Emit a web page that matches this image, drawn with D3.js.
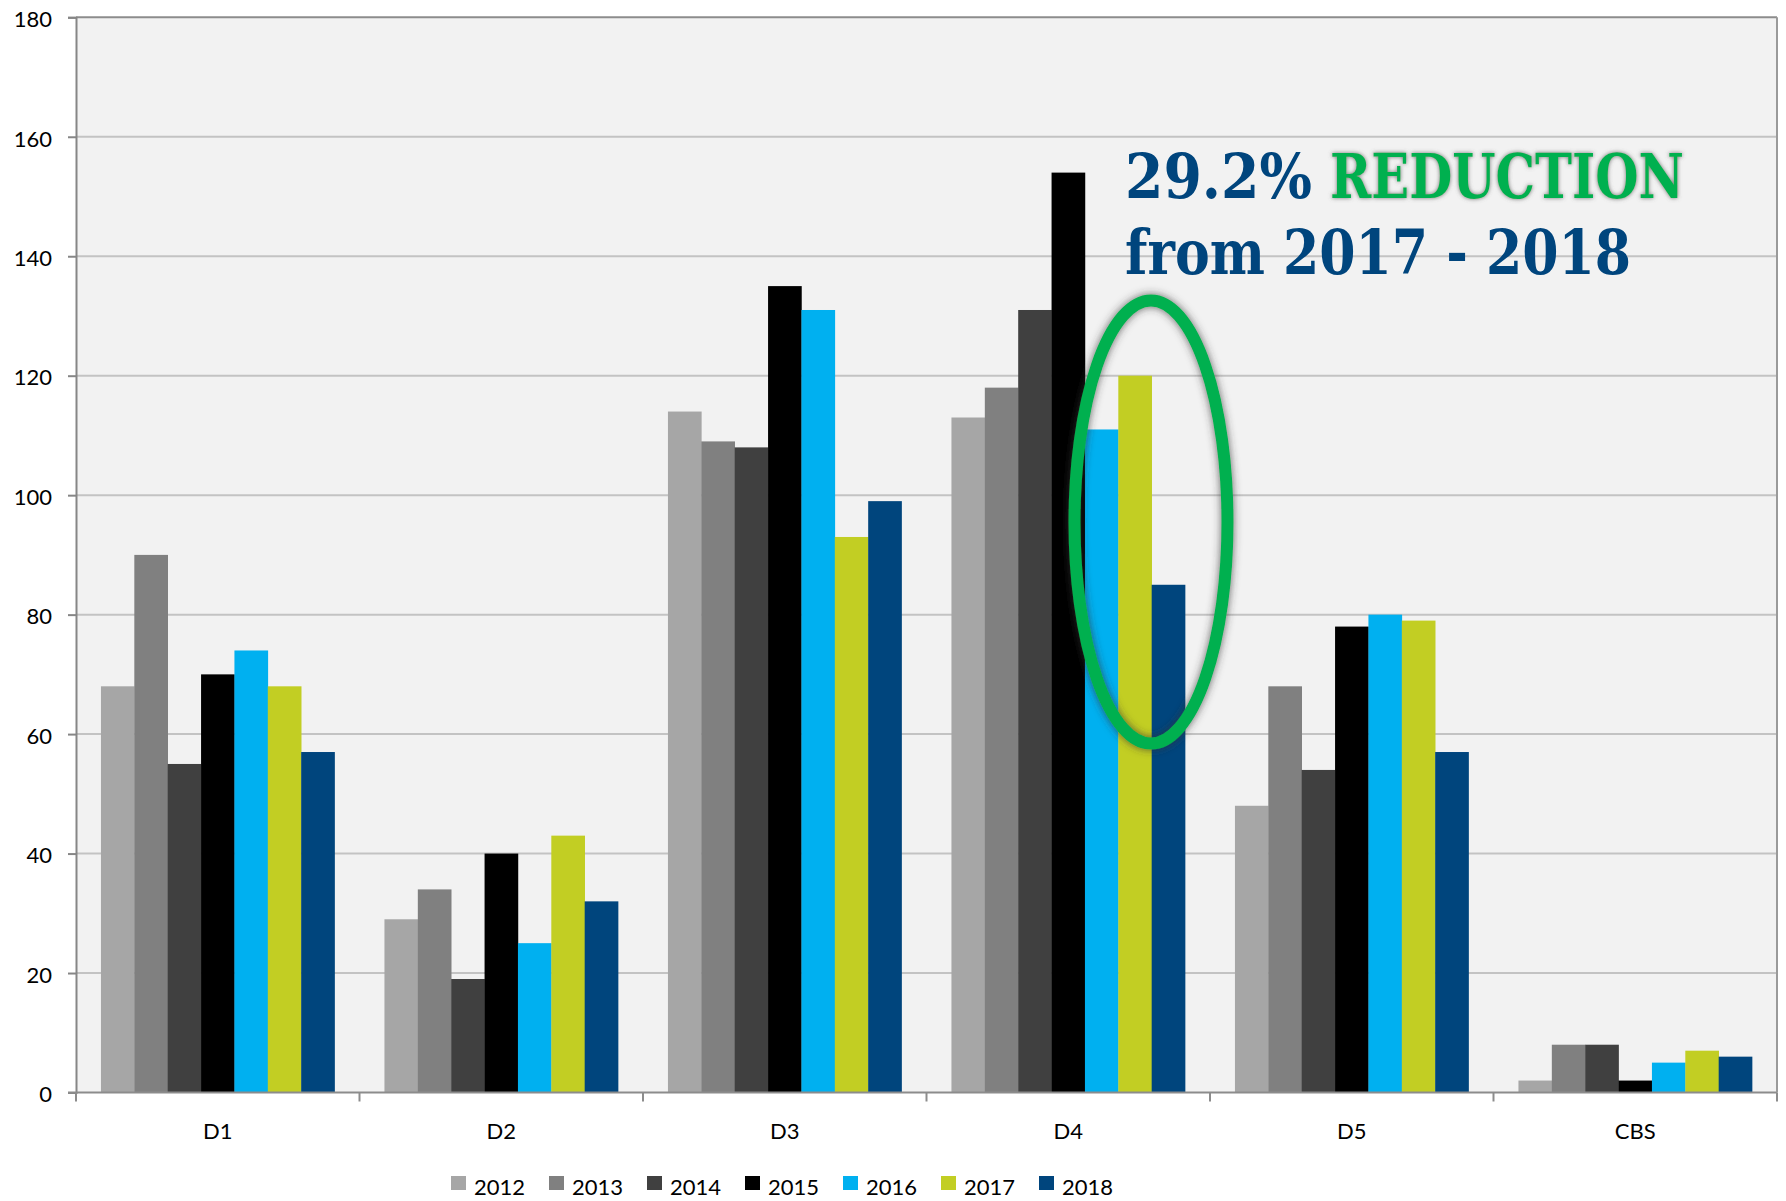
<!DOCTYPE html>
<html><head><meta charset="utf-8">
<script src="https://cdn.jsdelivr.net/npm/d3@7"></script>
<style>html,body{margin:0;padding:0;background:#fff;}svg{display:block;}</style>
</head><body>
<svg id="chart" width="1786" height="1201"></svg>
<script>
const categories = ["D1","D2","D3","D4","D5","CBS"];
const years = ["2012","2013","2014","2015","2016","2017","2018"];
const v2012 = [68, 29, 114, 113, 48, 2];
const v2013 = [90, 34, 109, 118, 68, 8];
const v2014 = [55, 19, 108, 131, 54, 8];
const v2015 = [70, 40, 135, 154, 78, 2];
const v2016 = [74, 25, 131, 111, 80, 5];
const v2017 = [68, 43, 93, 120, 79, 7];
const v2018 = [57, 32, 99, 85, 57, 6];
const yTicks = [0,20,40,60,80,100,120,140,160,180];
const colors = ["#a6a6a6","#808080","#404040","#000000","#00b0f0","#c2ce23","#00457d"];

const series = [v2012,v2013,v2014,v2015,v2016,v2017,v2018];
const svg = d3.select("#chart");
const L = 76, R = 1777, T = 17.3, B = 1092.5;

const defs = svg.append("defs");
const f1 = defs.append("filter").attr("id","glow").attr("x","-30%").attr("y","-30%").attr("width","160%").attr("height","160%");
f1.append("feGaussianBlur").attr("in","SourceAlpha").attr("stdDeviation",4).attr("result","b");
f1.append("feFlood").attr("flood-color","#333").attr("flood-opacity",0.75);
f1.append("feComposite").attr("in2","b").attr("operator","in").attr("result","s");
const m1 = f1.append("feMerge"); m1.append("feMergeNode").attr("in","s"); m1.append("feMergeNode").attr("in","SourceGraphic");
const f2 = defs.append("filter").attr("id","tglow").attr("x","-10%").attr("y","-30%").attr("width","120%").attr("height","160%");
f2.append("feGaussianBlur").attr("in","SourceAlpha").attr("stdDeviation",2).attr("result","b");
f2.append("feFlood").attr("flood-color","#666").attr("flood-opacity",0.9);
f2.append("feComposite").attr("in2","b").attr("operator","in").attr("result","s");
const m2 = f2.append("feMerge"); m2.append("feMergeNode").attr("in","s"); m2.append("feMergeNode").attr("in","SourceGraphic");

const x0 = d3.scaleBand().domain(categories).range([L,R]).paddingInner(0.176).paddingOuter(0.088);
const x1 = d3.scaleBand().domain(years).range([0, x0.bandwidth()]);
const y = d3.scaleLinear().domain([0,180]).range([B,T]);

svg.append("rect").attr("x",L).attr("y",T).attr("width",R-L).attr("height",B-T).attr("fill","#f2f2f2");

// gridlines
svg.append("g").selectAll("line").data(yTicks.filter(d=>d>0)).join("line")
  .attr("x1",L).attr("x2",R).attr("y1",d=>y(d)).attr("y2",d=>y(d))
  .attr("stroke",d=>d===180?"#8c8c8c":"#c3c3c3").attr("stroke-width",2);

// bars
const g = svg.append("g");
categories.forEach((c,ci)=>{
  years.forEach((yr,yi)=>{
    const v = series[yi][ci];
    g.append("rect").attr("x",x0(c)+x1(yr)).attr("width",x1.bandwidth()+0.3)
      .attr("y",y(v)).attr("height",y(0)-y(v)).attr("fill",colors[yi]);
  });
});

// y axis
const yAxis = d3.axisLeft(y).tickValues(yTicks).tickSize(8).tickPadding(16).tickFormat(d3.format("d"));
const ya = svg.append("g").attr("transform",`translate(${L},0)`).call(yAxis);
ya.select(".domain").attr("stroke","#868686").attr("stroke-width",2);
ya.selectAll(".tick line").attr("stroke","#868686").attr("stroke-width",2);
ya.selectAll(".tick text").attr("font-family","Lato").attr("font-size",22).attr("fill","#000").attr("dy","0.42em");

// x axis
const bounds = [L].concat(categories.map(c=>x0(c)-x0.step()*0.088+x0.step()));
svg.append("line").attr("x1",L-8).attr("x2",R).attr("y1",B).attr("y2",B).attr("stroke","#8c8c8c").attr("stroke-width",2);
svg.append("line").attr("x1",R).attr("x2",R).attr("y1",T).attr("y2",B).attr("stroke","#9a9a9a").attr("stroke-width",2);
svg.append("g").selectAll("line").data(bounds).join("line")
  .attr("x1",d=>d).attr("x2",d=>d).attr("y1",B).attr("y2",B+9).attr("stroke","#8c8c8c").attr("stroke-width",2);
svg.append("g").selectAll("text").data(categories).join("text")
  .attr("x",d=>x0(d)+x0.bandwidth()/2).attr("y",1139).attr("text-anchor","middle")
  .attr("font-family","Lato").attr("font-size",22).attr("fill","#000").text(d=>d);

// legend
const lg = svg.append("g");
years.forEach((yr,i)=>{
  const lx = 451 + i*98;
  lg.append("rect").attr("x",lx).attr("y",1176).attr("width",15).attr("height",14).attr("fill",colors[i]);
  lg.append("text").attr("x",lx+23).attr("y",1195).attr("font-family","Lato").attr("font-size",22).attr("fill","#000").text(yr);
});

// annotation
const af = "'DejaVu Serif', serif";
svg.append("text").attr("x",1125).attr("y",198).attr("font-family",af).attr("font-weight","bold")
  .attr("font-size",62).attr("fill","#00457d").attr("textLength",187).attr("lengthAdjust","spacingAndGlyphs").text("29.2%");
svg.append("text").attr("x",1330).attr("y",198).attr("font-family",af).attr("font-weight","bold")
  .attr("font-size",62).attr("fill","#00b050").attr("filter","url(#tglow)").attr("textLength",354).attr("lengthAdjust","spacingAndGlyphs").text("REDUCTION");
svg.append("text").attr("x",1125).attr("y",274).attr("font-family",af).attr("font-weight","bold")
  .attr("font-size",62).attr("fill","#00457d").attr("textLength",506).attr("lengthAdjust","spacingAndGlyphs").text("from 2017 - 2018");

svg.append("ellipse").attr("cx",1151).attr("cy",522).attr("rx",76.5).attr("ry",221.5)
  .attr("fill","none").attr("stroke","#00b050").attr("stroke-width",12).attr("filter","url(#glow)");
</script>
</body></html>
